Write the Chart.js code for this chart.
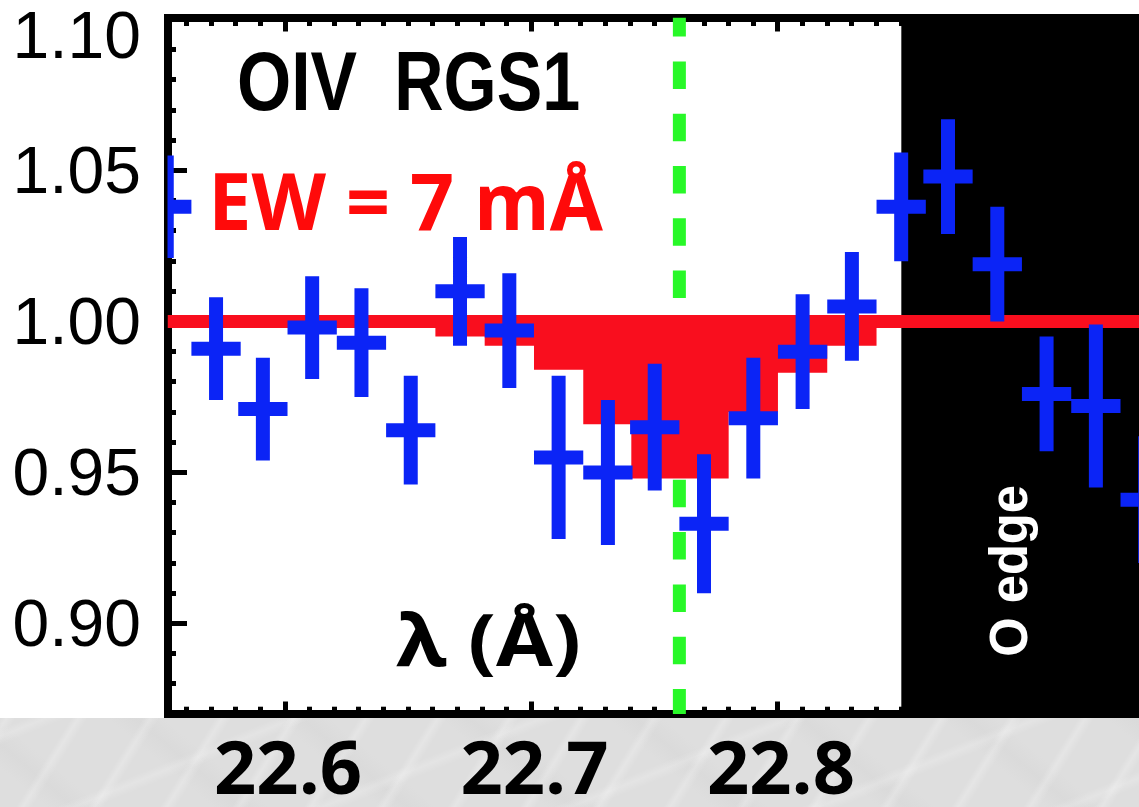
<!DOCTYPE html>
<html>
<head>
<meta charset="utf-8">
<title>OIV RGS1</title>
<script src="https://cdn.jsdelivr.net/npm/chart.js@4.4.1/dist/chart.umd.min.js"></script>
<style>
  html, body { margin: 0; padding: 0; }
  body {
    width: 1139px; height: 807px; overflow: hidden;
    background:
      linear-gradient(#ffffff, #ffffff) 0 0 / 100% 718px no-repeat,
      repeating-linear-gradient(122deg, rgba(255,255,255,0) 0 14px, rgba(255,255,255,.22) 20px, rgba(255,255,255,0) 28px 61px),
      repeating-linear-gradient(158deg, rgba(255,255,255,0) 0 25px, rgba(255,255,255,.18) 32px, rgba(255,255,255,0) 40px 93px),
      repeating-linear-gradient(40deg, rgba(185,185,185,0) 0 30px, rgba(185,185,185,.10) 48px, rgba(185,185,185,0) 66px 107px),
      #dedede;
  }
  canvas { display: block; }
</style>
</head>
<body>
<canvas id="graficRGS" width="1139" height="807"></canvas>
<script>
// spectrul RGS1 in jurul liniei OIV, normalizat la continuu
var lambda = [22.552, 22.572, 22.591, 22.611, 22.631, 22.651, 22.671, 22.691, 22.711, 22.731, 22.750,
              22.770, 22.790, 22.810, 22.830, 22.850, 22.869, 22.889, 22.909, 22.929, 22.949];
var flux = [1.038, 0.991, 0.971, 0.998, 0.993, 0.964, 1.010, 0.997, 0.955, 0.950, 0.965,
            0.933, 0.968, 0.990, 1.005, 1.038, 1.048, 1.019, 0.976, 0.972, 0.941];
var flux_err = [0.017, 0.017, 0.017, 0.017, 0.018, 0.018, 0.018, 0.019, 0.027, 0.024, 0.021,
                0.023, 0.020, 0.019, 0.018, 0.018, 0.019, 0.019, 0.019, 0.027, 0.021];
// modelul liniei de absorbtie, pe aceleasi canale
var model = [1, 1, 1, 1, 1, 1, 0.995, 0.992, 0.984, 0.966, 0.948,
             0.948, 0.970, 0.983, 0.992, 1, 1, 1, 1, 1, 1];
var bin_half = 0.01;
var continuu = 1.0;
var lambda_OIV = 22.760;
var edge_start = 22.85;
var x_labels = [22.6, 22.7, 22.8];
var x_min = 22.5523, x_max = 22.9465;
var y_min = 0.870, y_max = 1.1007;

var albastru = '#0b24f6', rosu = '#f90e1e', verde = '#28f828';

// barele de eroare: cate un segment vertical si unul orizontal pe canal
var bare = [];
for (var i = 0; i < lambda.length; i++) {
    bare.push({x: lambda[i], y: flux[i] - flux_err[i]}, {x: lambda[i], y: flux[i] + flux_err[i]}, {x: lambda[i], y: null});
    bare.push({x: lambda[i] - bin_half, y: flux[i]}, {x: lambda[i] + bin_half, y: flux[i]}, {x: lambda[i] + bin_half, y: null});
}
var puncte_model = lambda.map(function (l, i) { return {x: l, y: model[i]}; });

function multiplu(v, pas) {
    var r = v / pas;
    return Math.abs(r - Math.round(r)) < 1e-6;
}
function e_major(c, pas) {
    return c.tick ? multiplu(c.tick.value, pas) : true;
}
// axele au dimensiuni fixe, fara spatiu suplimentar pentru etichete
function dimensiune_fixa(latime, inaltime) {
    return function (s) {
        if (latime !== null) s.width = latime;
        if (inaltime !== null) s.height = inaltime;
        s.paddingTop = 0; s.paddingBottom = 0; s.paddingLeft = 0; s.paddingRight = 0;
    };
}

// text intins exact intre doua margini (in pixeli)
function text_potrivit(c, text, x0, x1, y, font, culoare) {
    c.save();
    c.font = font;
    c.fillStyle = culoare;
    c.textAlign = 'left';
    c.textBaseline = 'alphabetic';
    var m = c.measureText(text);
    var latime = m.actualBoundingBoxLeft + m.actualBoundingBoxRight;
    c.translate(x0, y);
    c.scale((x1 - x0) / latime, 1);
    c.fillText(text, m.actualBoundingBoxLeft, 0);
    c.restore();
}

var adnotari = {
    id: 'adnotari',
    afterDatasetsDraw: function (chart) {
        var c = chart.ctx, sx = chart.scales.x, sy = chart.scales.y;
        var px = function (v) { return sx.getPixelForValue(v); };
        var py = function (v) { return sy.getPixelForValue(v); };

        text_potrivit(c, 'OIV', px(22.5815), px(22.6291), py(1.0699), "bold 83px 'Liberation Sans Narrow', 'Liberation Sans', Arial", '#000');
        text_potrivit(c, 'RGS1', px(22.6460), px(22.7190), py(1.0699), "bold 83px 'Liberation Sans Narrow', 'Liberation Sans', Arial", '#000');
        text_potrivit(c, 'EW = 7 mÅ', px(22.5716), px(22.7292), py(1.0303), "bold 79px 'Open Sans', sans-serif", '#ff0a0a');
        text_potrivit(c, 'λ (Å)', px(22.6450), px(22.7189), py(0.8859), "bold 72px 'Open Sans', sans-serif", '#000');

        // eticheta verticala pe zona neagra
        var y0 = py(0.8896), y1 = py(0.9455);
        c.save();
        c.translate(px(22.9010), y0);
        c.rotate(-Math.PI / 2);
        text_potrivit(c, 'O edge', 0, y0 - y1, 0, "bold 54px 'Liberation Sans', Arial", '#fff');
        c.restore();
    }
};

var ctx = document.getElementById('graficRGS').getContext('2d');
new Chart(ctx, {
    type: 'line',
    data: {
        datasets: [{
            label: 'RGS1',
            data: bare,
            borderColor: albastru,
            borderWidth: 14,
            borderCapStyle: 'butt',
            pointRadius: 0,
            spanGaps: false,
            order: 0
        }, {
            label: 'model',
            data: puncte_model,
            stepped: 'middle',
            borderWidth: 0,
            backgroundColor: rosu,
            fill: {value: continuu},
            pointRadius: 0,
            order: 1
        }, {
            label: 'continuu',
            data: [{x: x_min, y: continuu}, {x: x_max, y: continuu}],
            borderColor: rosu,
            borderWidth: 13,
            borderCapStyle: 'butt',
            pointRadius: 0,
            order: 2
        }, {
            label: 'OIV',
            data: [{x: lambda_OIV, y: y_min}, {x: lambda_OIV, y: y_max}],
            borderColor: verde,
            borderWidth: 13,
            borderDash: [27.5, 24.8],
            borderDashOffset: 2.5,
            borderCapStyle: 'butt',
            pointRadius: 0,
            order: 3
        }, {
            label: 'O edge',
            data: [{x: edge_start, y: y_max}, {x: x_max, y: y_max}],
            borderWidth: 0,
            backgroundColor: '#000000',
            fill: 'start',
            pointRadius: 0,
            order: 4
        }]
    },
    options: {
        responsive: false,
        animation: false,
        events: [],
        layout: { padding: 0 },
        plugins: {
            legend: { display: false },
            tooltip: { enabled: false }
        },
        scales: {
            x: {
                type: 'linear',
                position: 'bottom',
                min: x_min,
                max: x_max,
                border: { display: true, color: '#000', width: 8 },
                grid: {
                    drawOnChartArea: false,
                    tickLength: -12.5,
                    lineWidth: 5,
                    tickWidth: 5,
                    tickColor: '#000',
                    tickBorderDash: function (c) { return e_major(c, 0.1) ? [] : [11.3, 100]; }
                },
                ticks: {
                    stepSize: 0.01,
                    includeBounds: false,
                    autoSkip: false,
                    maxRotation: 0,
                    minRotation: 0,
                    padding: 34,
                    labelOffset: 3,
                    color: '#000',
                    font: { family: "'Open Sans', sans-serif", size: 74, weight: 'bold', lineHeight: 1 },
                    callback: function (v) {
                        return x_labels.some(function (t) { return Math.abs(t - v) < 1e-6; }) ? v.toFixed(1) : '';
                    }
                },
                afterFit: dimensiune_fixa(null, 93)
            },
            x_sus: {
                type: 'linear',
                position: 'top',
                min: x_min,
                max: x_max,
                border: { display: true, color: '#000', width: 8 },
                grid: {
                    drawOnChartArea: false,
                    tickLength: -14,
                    lineWidth: 5,
                    tickWidth: 5,
                    tickColor: '#000',
                    tickBorderDash: function (c) { return e_major(c, 0.1) ? [] : [12.5, 5.5]; },
                    tickBorderDashOffset: function (c) { return e_major(c, 0.1) ? 0 : 12.5; }
                },
                ticks: { stepSize: 0.01, includeBounds: false, autoSkip: false, display: false },
                afterFit: dimensiune_fixa(null, 17.5)
            },
            y: {
                type: 'linear',
                position: 'left',
                min: y_min,
                max: y_max,
                border: { display: true, color: '#000', width: 8 },
                grid: {
                    drawOnChartArea: false,
                    tickLength: -19.5,
                    lineWidth: 5,
                    tickWidth: 5,
                    tickColor: '#000',
                    tickBorderDash: function (c) { return e_major(c, 0.05) ? [] : [12.5, 11]; },
                    tickBorderDashOffset: function (c) { return e_major(c, 0.05) ? 0 : 12.5; }
                },
                ticks: {
                    stepSize: 0.01,
                    includeBounds: false,
                    autoSkip: false,
                    padding: 46,
                    labelOffset: 4.5,
                    color: '#000',
                    font: function (c) {
                        var sus = c.tick && c.tick.value > 1.095;
                        return { family: "'Liberation Sans', Arial, sans-serif", size: 66, lineHeight: sus ? '32px' : 1.2 };
                    },
                    callback: function (v) {
                        if (!multiplu(v, 0.05)) return '';
                        var s = v.toFixed(2);
                        return v > 1.095 ? ['', s] : s;   // 1.10 coborat sub rama
                    }
                },
                afterFit: dimensiune_fixa(167.5, null)
            }
        }
    },
    plugins: [adnotari]
});
</script>
</body>
</html>
